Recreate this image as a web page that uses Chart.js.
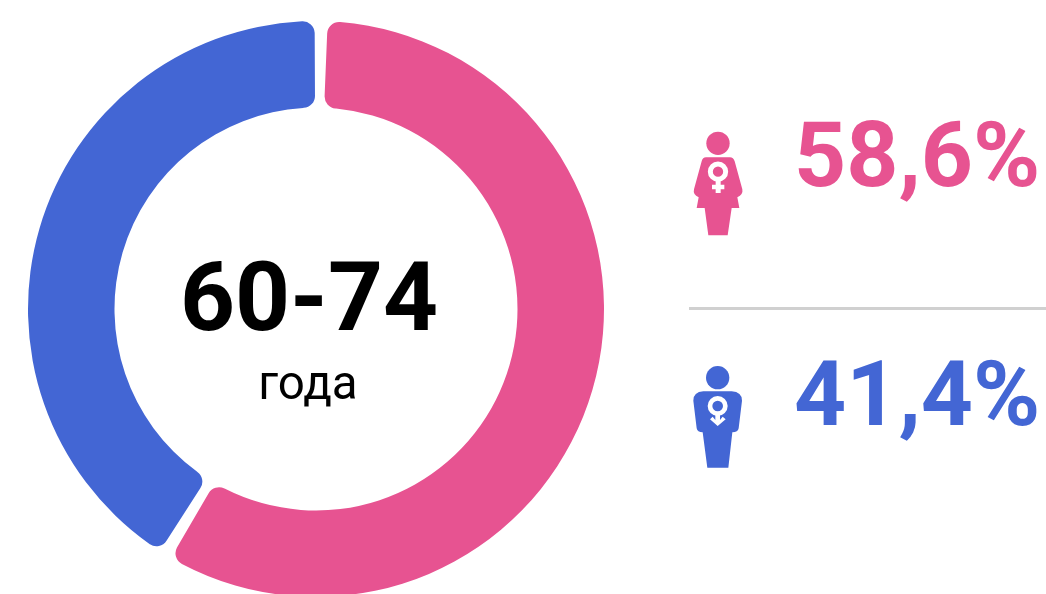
<!DOCTYPE html>
<html>
<head>
<meta charset="utf-8">
<script src="https://cdn.jsdelivr.net/npm/chart.js@4/dist/chart.umd.min.js"></script>
<style>
html, body { margin: 0; padding: 0; background: #fff; }
body { position: relative; width: 1046px; height: 594px; overflow: hidden; font-family: Roboto, sans-serif; }
#chartWrap { position: absolute; left: 0; top: 0; width: 631px; height: 631px; }
.txt { position: absolute; white-space: nowrap; line-height: 1; }
#ageLabel { left: 109px; width: 400px; top: 249px; text-align: center; font-size: 96px; font-weight: 700; color: #000; }
#ageSub { left: 108px; width: 400px; top: 360px; text-align: center; font-size: 47.5px; color: #000; }
#pctF { left: 794px; top: 110px; font-size: 91px; font-weight: 700; color: #e75391; }
#pctM { left: 794px; top: 349px; font-size: 91px; font-weight: 700; color: #4366d4; }
#divider { position: absolute; left: 689px; top: 307px; width: 357px; height: 3px; background: #d0d0d0; }
svg { position: absolute; }
</style>
</head>
<body>
<div id="chartWrap"><canvas id="genderChart" width="631" height="631"></canvas></div>
<div class="txt" id="ageLabel"></div>
<div class="txt" id="ageSub"></div>
<div class="txt" id="pctF"></div>
<div class="txt" id="pctM"></div>
<div id="divider"></div>

<svg style="left:680px;top:110px" width="120" height="140" viewBox="0 0 360 420">
  <circle cx="114" cy="100" r="35" fill="#e75391"/>
  <path fill="#e75391" d="M78 142 L150 142 Q160 142 164 154 L187 238 Q190 254 172 262 L178 294 L155 294 L143 376 L85 376 L74 294 L50 294 L56 262 Q38 254 42 238 L65 154 Q68 142 78 142 Z"/>
  <circle cx="114" cy="185" r="23" fill="none" stroke="#fff" stroke-width="15"/>
  <path fill="#fff" d="M107 210 L122 210 L122 224 L133 224 L133 238 L122 238 L122 249 L107 249 L107 238 L96 238 L96 224 L107 224 Z"/>
</svg>
<svg style="left:680px;top:350px" width="120" height="130" viewBox="0 0 360 390">
  <circle cx="113" cy="83" r="35" fill="#4366d4"/>
  <path fill="#4366d4" d="M70 124 L155 124 Q186 126 186 152 L176 235 Q174 247 157 247 L145 353 L82 353 L68 247 Q52 247 50 235 L40 152 Q40 126 70 124 Z"/>
  <circle cx="113" cy="168" r="23" fill="none" stroke="#fff" stroke-width="14"/>
  <path fill="#fff" d="M106 190 L120 190 L120 210 L128 200 L137 208 L113 228 L90 208 L98 200 L106 210 Z"/>
</svg>

<script>
const genderLabels = ['Женщины', 'Мужчины'];
const genderValues = [58.6, 41.4];
const genderColors = ['#e75391', '#4366d4'];
const ageGroup = '60-74';
const ageUnit = 'года';

function formatPct(v) {
    return v.toFixed(1).replace('.', ',') + '%';
}

document.getElementById('ageLabel').textContent = ageGroup;
document.getElementById('ageSub').textContent = ageUnit;
document.getElementById('pctF').textContent = formatPct(genderValues[0]);
document.getElementById('pctM').textContent = formatPct(genderValues[1]);

const ctx = document.getElementById('genderChart').getContext('2d');
new Chart(ctx, {
    type: 'doughnut',
    data: {
        labels: genderLabels,
        datasets: [{
            data: genderValues,
            backgroundColor: genderColors,
            borderWidth: 0,
            spacing: 7,
            borderRadius: 12
        }]
    },
    options: {
        responsive: false,
        animation: false,
        rotation: 0.8,
        cutout: 198,
        layout: { padding: { left: 28, top: 21, right: 27, bottom: 34 } },
        plugins: { legend: { display: false }, tooltip: { enabled: false } }
    }
});
</script>
</body>
</html>
